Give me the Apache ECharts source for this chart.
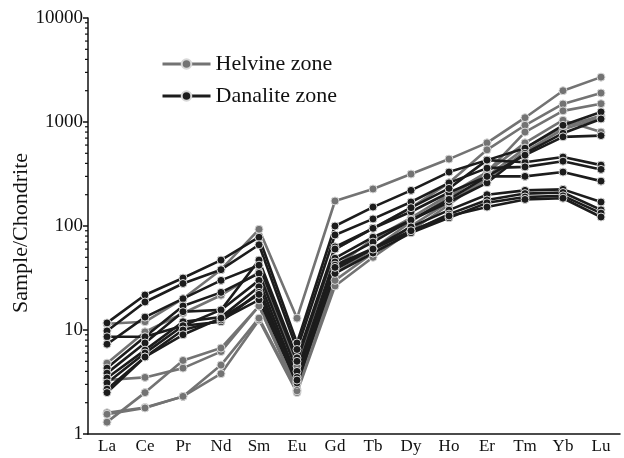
<!DOCTYPE html>
<html>
<head>
<meta charset="utf-8">
<script src="https://cdn.jsdelivr.net/npm/echarts@6/dist/echarts.min.js"></script>
<style>html,body{margin:0;padding:0;background:#fff}#c{width:624px;height:458px}</style>
</head>
<body>
<div id="c"></div>
<script>
const categories = ['La','Ce','Pr','Nd','Sm','Eu','Gd','Tb','Dy','Ho','Er','Tm','Yb','Lu'];
const yTicks = [1, 10, 100, 1000, 10000];

// Helvine zone samples (grey)
const h1 = [11.5, 12, 20, 38, 93, 13, 174, 227, 316, 440, 630, 1100, 2000, 2700];
const h2 = [4.8, 9.6, 14.5, 21.6, 36, 4.5, 60, 95, 150, 260, 540, 930, 1490, 1900];
const h3 = [3.3, 3.5, 4.3, 6.2, 17, 2.7, 40, 75, 120, 200, 330, 800, 1280, 1500];
const h4 = [1.3, 2.5, 5.1, 6.7, 17, 2.6, 35, 60, 110, 190, 330, 630, 1040, 800];
const h5 = [1.6, 1.8, 2.3, 3.8, 12.5, 2.5, 26.5, 50, 90, 160, 300, 560, 900, 1150];
const h6 = [1.55, 1.78, 2.3, 4.6, 13, 2.6, 30, 55, 100, 170, 280, 520, 850, 1100];
const helvine = [h1, h2, h3, h4, h5, h6];

// Danalite zone samples (black)
const d1 = [11.7, 21.7, 31.6, 47, 78, 7.5, 100, 152, 220, 330, 430, 410, 460, 385];
const d2 = [9.8, 18.6, 28, 38, 66, 6.5, 82, 117, 170, 260, 360, 370, 420, 350];
const d3 = [8.6, 8.6, 11, 15.6, 47, 5.4, 63, 95, 137, 210, 300, 300, 330, 270];
const d4 = [7.3, 13.3, 20, 30, 42, 5, 60, 95, 150, 230, 430, 560, 930, 1250];
const d5 = [4.3, 8.6, 17, 23, 35, 4, 49, 78, 114, 170, 260, 500, 780, 1070];
const d6 = [3.85, 7.5, 15, 15.6, 30, 3.5, 45, 70, 114, 180, 300, 480, 720, 740];
const d7 = [3.45, 6.4, 12, 13.3, 26, 3.2, 42, 61, 98, 142, 200, 220, 225, 170];
const d8 = [3.1, 6, 11, 12, 23, 3.0, 38, 61, 88, 130, 178, 205, 210, 143];
const d9 = [2.7, 5.5, 10, 12.5, 19.5, 3.1, 35, 55, 86, 120, 167, 190, 195, 133];
const d10 = [2.5, 5.5, 9, 13, 22, 3.3, 40, 60, 90, 125, 152, 180, 185, 122];
const danalite = [d1, d2, d3, d4, d5, d6, d7, d8, d9, d10];

const GREY = '#737373';
const BLACK = '#1c1c1c';
const FONT = '"Liberation Serif", "Times New Roman", serif';

function mk(name, color, data) {
  return {
    name: name, type: 'line', data: data,
    symbol: 'circle', symbolSize: 8,
    lineStyle: { color: color, width: 2.6 },
    itemStyle: { color: color, borderColor: '#d8d8d8', borderWidth: 1 },
    emphasis: { disabled: true },
    animation: false
  };
}
const series = [];
helvine.forEach(d => series.push(mk('Helvine zone', GREY, d)));
danalite.forEach(d => series.push(mk('Danalite zone', BLACK, d)));

const chart = echarts.init(document.getElementById('c'), null, { renderer: 'canvas' });
chart.setOption({
  animation: false,
  backgroundColor: '#fff',
  grid: { left: 88, right: 4, top: 18, bottom: 24, containLabel: false, outerBoundsMode: 'none' },
  legend: {
    orient: 'vertical', left: 156, top: 48,
    itemWidth: 48, itemHeight: 12, itemGap: 10,
    data: ['Helvine zone', 'Danalite zone'],
    textStyle: { fontFamily: FONT, fontSize: 22, color: '#111', padding: [0,0,0,0] },
    lineStyle: { width: 3 }
  },
  xAxis: {
    type: 'category', data: categories, boundaryGap: true,
    axisLine: { lineStyle: { color: '#111', width: 1.5 } },
    axisTick: { alignWithLabel: true, length: 5, lineStyle: { color: '#111', width: 1.5 } },
    axisLabel: { fontFamily: FONT, fontSize: 17, color: '#111', margin: 4 },
    splitLine: { show: false }
  },
  yAxis: {
    type: 'log', logBase: 10, min: 1, max: 10000,
    name: 'Sample/Chondrite', nameLocation: 'middle', nameGap: 56, nameMoveOverlap: false,
    nameTextStyle: { fontFamily: FONT, fontSize: 22, color: '#111', padding: [0, 14, 0, 0] },
    axisLine: { show: true, lineStyle: { color: '#111', width: 1.5 } },
    axisTick: { show: true, length: 5, lineStyle: { color: '#111', width: 1.5 } },
    axisLabel: { fontFamily: FONT, fontSize: 19, color: '#111', margin: 5,
      formatter: v => String(Math.round(v)) },
    splitLine: { show: false },
    minorTick: { show: false }
  },
  series: series
});

// log minor ticks (2..9 in each decade) placed via axis scale
const g = [];
const x0 = chart.convertToPixel({ xAxisIndex: 0 }, categories[0]) - 19;
for (let i = 0; i < yTicks.length - 1; i++) {
  for (let k = 2; k <= 9; k++) {
    const y = chart.convertToPixel({ yAxisIndex: 0 }, yTicks[i] * k);
    g.push({ type: 'line', shape: { x1: x0 - 3, y1: y, x2: x0, y2: y },
      style: { stroke: '#111', lineWidth: 1.2 }, silent: true });
  }
}
chart.setOption({ graphic: g });
</script>
</body>
</html>
